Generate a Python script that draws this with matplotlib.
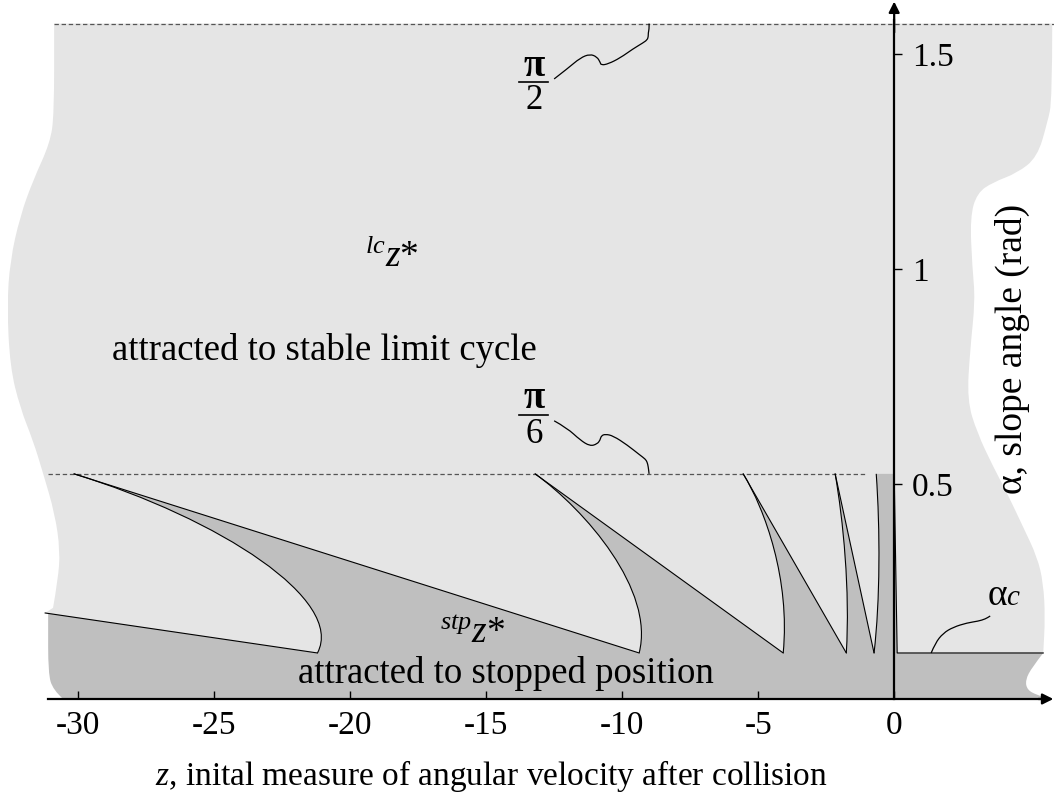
import matplotlib.pyplot as plt
import numpy as np
from matplotlib.path import Path
from matplotlib.patches import PathPatch

plt.rcParams["font.family"] = ["Liberation Serif", "DejaVu Serif"]
plt.rcParams["axes.unicode_minus"] = False
plt.rcParams["mathtext.fontset"] = "custom"
plt.rcParams["mathtext.rm"] = "Liberation Serif"
plt.rcParams["mathtext.it"] = "Liberation Serif:italic"

LIGHT = "#e5e5e5"
DARK = "#bfbfbf"

# key slope angles
alpha_top = np.pi / 2
alpha_mid = np.pi / 6
alpha_c = 0.107

# cusps of the stopped-position basin: tip on alpha = pi/6, foot on alpha_c
cusp_top_z = [-30.15, -13.2, -5.55, -2.17, -0.66]
cusp_bot_z = [-21.2, -9.375, -4.08, -1.76, -0.74]
# bezier handles of each curved side (near the tip, near the foot)
handle_top = [(-24.78, 0.419), (-11.36, 0.440), (-4.74, 0.440), (-1.875, 0.416), (-0.515, 0.393)]
handle_bot = [(-20.18, 0.230), (-8.79, 0.253), (-3.82, 0.277), (-1.62, 0.253), (-0.515, 0.230)]

# first boundary, entering from the left of the plotted range
edge_start = (-31.21, 0.200)
# foot of the vertical boundary just right of z = 0
axis_foot_z = 0.11
alpha_c_end_z = 5.48

# hand-drawn cut-off edges of the shaded regions
light_left = [(-30.88, alpha_top), (-30.88, 1.360), (-31.03, 1.293), (-31.65, 1.207),
              (-32.13, 1.123), (-32.50, 1.019), (-32.61, 0.914), (-32.50, 0.772),
              (-32.13, 0.677), (-31.65, 0.600), (-31.29, 0.526), (-30.85, 0.430),
              (-30.66, 0.344), (-30.74, 0.277), (-30.92, 0.212)]
light_right = [(5.81, alpha_top), (5.81, 1.393), (5.63, 1.340), (5.26, 1.260),
               (4.52, 1.223), (3.64, 1.202), (3.05, 1.177), (2.79, 1.121),
               (2.87, 1.005), (2.98, 0.928), (2.79, 0.812), (2.68, 0.695),
               (3.05, 0.619), (3.64, 0.540), (4.15, 0.479), (4.74, 0.400),
               (5.26, 0.330), (5.48, 0.270), (5.55, 0.191), (5.48, alpha_c)]
dark_left = [(-30.55, 0.0), (-30.92, 0.021), (-31.10, 0.060), (-31.10, 0.184), (-31.10, 0.1995)]
dark_right = [(5.48, alpha_c), (5.07, 0.074), (4.82, 0.044), (4.89, 0.021), (5.26, 0.009), (5.74, 0.0)]

# wavy leader lines for the labels
lead_half_pi = [(-12.50, 1.442), (-11.99, 1.467), (-11.54, 1.491), (-11.18, 1.500),
                (-10.92, 1.493), (-10.81, 1.481), (-10.77, 1.474), (-10.51, 1.477),
                (-10.07, 1.491), (-9.60, 1.512), (-9.23, 1.526), (-9.08, 1.533),
                (-9.04, 1.540), (-9.04, 1.549), (-9.01, 1.558), (-9.01, alpha_top)]
lead_sixth_pi = [(-12.50, 0.647), (-12.02, 0.630), (-11.54, 0.602), (-11.18, 0.588),
                 (-10.92, 0.593), (-10.81, 0.602), (-10.77, 0.612), (-10.62, 0.616),
                 (-10.33, 0.612), (-9.82, 0.591), (-9.34, 0.567), (-9.15, 0.558),
                 (-9.08, 0.551), (-9.04, 0.540), (-9.01, alpha_mid)]
lead_alpha_c = [(1.36, alpha_c), (1.51, 0.130), (1.80, 0.153), (2.17, 0.167),
                (2.68, 0.177), (3.09, 0.181), (3.35, 0.186), (3.53, 0.193)]

x_ticks = [-30, -25, -20, -15, -10, -5, 0]
y_ticks = [0.5, 1, 1.5]


def smooth(pts, first=Path.MOVETO):
    """Quadratic curve through the midpoints of a polyline."""
    verts = [pts[0]]
    codes = [first]
    for i in range(1, len(pts) - 1):
        mid = ((pts[i][0] + pts[i + 1][0]) / 2, (pts[i][1] + pts[i + 1][1]) / 2)
        verts += [pts[i], mid]
        codes += [Path.CURVE3, Path.CURVE3]
    verts.append(pts[-1])
    codes.append(Path.LINETO)
    return verts, codes


fig = plt.figure(figsize=(10.54, 7.99), dpi=100)
ax = fig.add_axes([0, 0, 1, 1])
ax.set_xlim(-32.87, 5.875)
ax.set_ylim(-0.2326, 1.6256)

# light region: attracted to the stable limit cycle
v, c = smooth(light_right)
v2, c2 = smooth(light_left[::-1], first=Path.LINETO)
verts = v + [(cusp_bot_z[0], alpha_c), edge_start] + v2 + [(0, 0)]
codes = c + [Path.LINETO, Path.LINETO] + c2 + [Path.CLOSEPOLY]
ax.add_patch(PathPatch(Path(verts, codes), facecolor=LIGHT, edgecolor="none", zorder=0))

# dark region: attracted to the stopped position
verts, codes = smooth(dark_left)
verts.append((cusp_bot_z[0], alpha_c))
codes.append(Path.LINETO)
for i in range(len(cusp_top_z)):
    verts += [handle_bot[i], handle_top[i], (cusp_top_z[i], alpha_mid)]
    codes += [Path.CURVE4] * 3
    if i + 1 < len(cusp_top_z):
        verts.append((cusp_bot_z[i + 1], alpha_c))
        codes.append(Path.LINETO)
verts += [(0, alpha_mid), (axis_foot_z, alpha_c)]
codes += [Path.LINETO, Path.LINETO]
v, c = smooth(dark_right, first=Path.LINETO)
verts += v + [(0, 0)]
codes += c + [Path.CLOSEPOLY]
ax.add_patch(PathPatch(Path(verts, codes), facecolor=DARK, edgecolor="none", zorder=0.5))

# basin boundaries
bk = dict(color="black", lw=0.8, zorder=2)
ax.plot([edge_start[0], cusp_bot_z[0]], [edge_start[1], alpha_c], **bk)
for i in range(len(cusp_top_z)):
    curve = Path([(cusp_top_z[i], alpha_mid), handle_top[i], handle_bot[i], (cusp_bot_z[i], alpha_c)],
                 [Path.MOVETO, Path.CURVE4, Path.CURVE4, Path.CURVE4])
    ax.add_patch(PathPatch(curve, facecolor="none", edgecolor="black", lw=0.8, zorder=2))
    if i + 1 < len(cusp_top_z):
        ax.plot([cusp_top_z[i], cusp_bot_z[i + 1]], [alpha_mid, alpha_c], **bk)
ax.plot([0, axis_foot_z, alpha_c_end_z], [alpha_mid, alpha_c, alpha_c], **bk)

# reference levels pi/2 and pi/6
dash = dict(color="#555555", lw=0.9, linestyle=(0, (3.5, 2.2)), zorder=1.5)
ax.plot([light_left[0][0], 5.875], [alpha_top, alpha_top], **dash)
ax.plot([edge_start[0] + 0.1, cusp_top_z[-1] - 0.4], [alpha_mid, alpha_mid], **dash)

# leaders
for pts in (lead_half_pi, lead_sixth_pi, lead_alpha_c):
    v, c = smooth(pts)
    ax.add_patch(PathPatch(Path(v, c), facecolor="none", edgecolor="black", lw=0.9, zorder=2))

# axes through the origin
for side in ("top", "left"):
    ax.spines[side].set_visible(False)
ax.spines["bottom"].set_position(("data", 0))
ax.spines["bottom"].set_bounds(-31.1, 5.6)
ax.spines["right"].set_position(("data", 0))
ax.spines["right"].set_bounds(0, 1.58)
ax.spines["bottom"].set_linewidth(1.6)
ax.spines["right"].set_linewidth(1.6)
ax.spines["bottom"].set_zorder(3)
ax.spines["right"].set_zorder(3)
ax.yaxis.tick_right()
ax.set_xticks(x_ticks)
ax.set_xticklabels([str(t) for t in x_ticks])
ax.set_yticks(y_ticks)
ax.set_yticklabels(["0.5", "1", "1.5"])
ax.tick_params(axis="x", direction="in", length=6, width=1, labelsize=24, pad=8)
ax.tick_params(axis="y", direction="out", length=6, width=1, labelsize=24, pad=7)
arrow = dict(arrowstyle="-|>", color="black", lw=1.6, mutation_scale=16, shrinkA=0, shrinkB=0)
ax.annotate("", xy=(5.85, 0), xytext=(5.3, 0), arrowprops=arrow, zorder=3)
ax.annotate("", xy=(0, 1.622), xytext=(0, 1.55), arrowprops=arrow, zorder=3)

# labels
ax.text(-28.75, 0.788, "attracted to stable limit cycle", fontsize=26.5, ha="left", va="baseline")
ax.text(-14.26, 0.037, "attracted to stopped position", fontsize=26.5, ha="center", va="baseline")
ax.text(-19.45, 1.005, r"$^{lc}z$*", fontsize=27, ha="left", va="baseline")
ax.text(-16.69, 0.132, r"$^{stp}z$*", fontsize=27, ha="left", va="baseline")

for frac_y, num_y, den_y, den in ((1.435, 1.472, 1.391, "2"), (0.660, 0.698, 0.616, "6")):
    ax.text(-13.24, num_y, "π", fontsize=28, fontweight="bold", ha="center", va="center")
    ax.plot([-13.79, -12.72], [frac_y, frac_y], color="black", lw=1.2)
    ax.text(-13.24, den_y, den, fontsize=25, ha="center", va="center")

ax.text(3.42, 0.219, "α", fontsize=27, ha="left", va="baseline")
ax.text(4.12, 0.219, "c", fontsize=21, style="italic", ha="left", va="baseline")

ax.text(-14.82, -0.2, r"$z$, inital measure of angular velocity after collision",
        fontsize=24, ha="center", va="baseline")
ax.text(4.34, 0.815, "α, slope angle (rad)", fontsize=27, rotation=90,
        ha="center", va="center")

fig.savefig("out.png", dpi=100, facecolor="white")
